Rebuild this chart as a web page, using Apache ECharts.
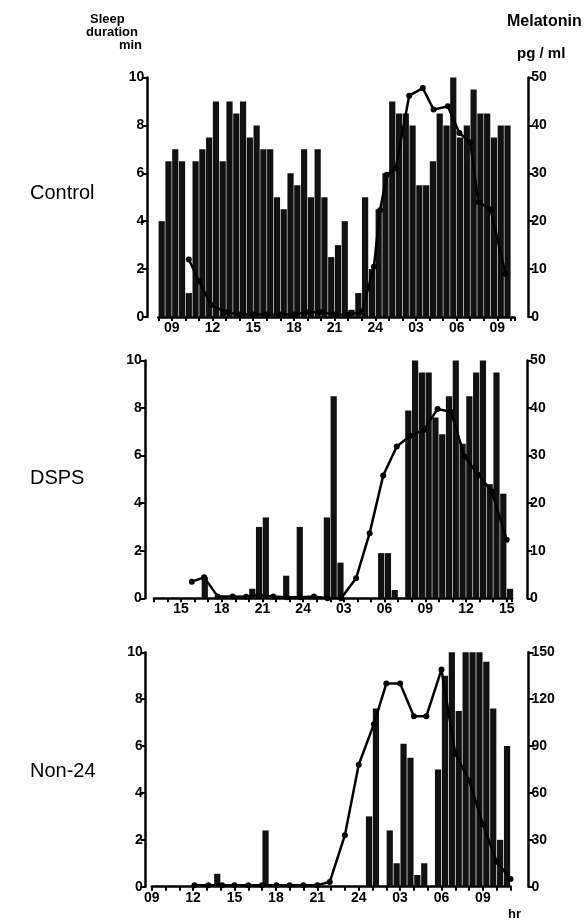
<!DOCTYPE html>
<html>
<head>
<meta charset="utf-8">
<script src="https://cdn.jsdelivr.net/npm/echarts@6/dist/echarts.min.js"></script>
<style>
  html, body { margin: 0; background: #fff; }
  #chart { width: 585px; height: 920px; }
</style>
</head>
<body>
<div id="chart"></div>
<script>
// sleep duration per half-hour bin (min), first bin centre given by *Start
var controlStart = 8.25
var controlSleep = [
  4.0, 6.5, 7.0, 6.5, 1.0, 6.5, 7.0, 7.5, 9.0, 6.5,
  9.0, 8.5, 9.0, 7.5, 8.0, 7.0, 7.0, 5.0, 4.5, 6.0,
  5.5, 7.0, 5.0, 7.0, 5.0, 2.5, 3.0, 4.0, 0.3, 1.0,
  5.0, 2.0, 4.5, 6.0, 9.0, 8.5, 8.5, 8.0, 5.5, 5.5,
  6.5, 8.5, 8.0, 10.0, 7.5, 8.0, 9.5, 8.5, 8.5, 7.5,
  8.0, 8.0
]
var dspsStart = 13.25
var dspsSleep = [
  0, 0, 0, 0, 0, 0, 0, 0.9, 0, 0,
  0, 0, 0, 0, 0.4, 3.0, 3.4, 0, 0, 0.95,
  0, 3.0, 0, 0, 0, 3.4, 8.5, 1.5, 0, 0,
  0, 0, 0, 1.9, 1.9, 0.35, 0, 7.9, 10, 9.5,
  9.5, 7.6, 6.9, 8.5, 10, 6.5, 8.5, 9.5, 10, 4.8,
  9.5, 4.4, 0.4
]
var non24Start = 9.25
var non24Sleep = [
  0, 0, 0, 0, 0, 0, 0, 0, 0, 0.55,
  0, 0, 0, 0, 0, 0, 2.4, 0, 0, 0,
  0, 0, 0, 0, 0, 0, 0, 0, 0, 0,
  0, 3.0, 7.6, 0, 2.4, 1.0, 6.1, 5.5, 0.5, 1.0,
  0, 5.0, 9.0, 10, 7.5, 10, 10, 10, 9.6, 7.6,
  2.0, 6.0
]

// melatonin samples (clock hour from start of record, pg/ml)
var controlMelTime = [10.25, 11.0, 11.9, 13, 14, 15, 16, 17, 18, 19, 20, 21, 22, 23, 23.9, 24.35, 24.85, 25.5, 26.5, 27.5, 28.3, 29.35, 30.2, 31.0, 31.6, 32.5, 33.6]
var controlMel = [12, 7.5, 2.5, 1, 0.5, 0.5, 0.5, 0.5, 0.5, 1, 1, 0.5, 0.5, 1, 10.5, 22.3, 29.7, 31, 46.2, 47.8, 43.3, 44, 38.4, 36.5, 24, 22.5, 9]
var dspsMelTime = [15.8, 16.7, 17.7, 18.8, 19.8, 20.7, 21.8, 22.8, 23.8, 24.8, 25.8, 26.8, 27.9, 28.9, 29.9, 30.9, 31.9, 32.9, 33.9, 34.9, 35.9, 36.9, 37.9, 39.0]
var dspsMel = [3.5, 4.4, 0.4, 0.4, 0.3, 0.7, 0.4, 0.2, 0.2, 0.4, 0, 0, 4.2, 13.7, 25.8, 31.9, 34.2, 35.4, 39.8, 39.2, 29.8, 26, 22.5, 12.3]
var non24MelTime = [12.1, 13.1, 14.1, 15.0, 16.0, 17.0, 18.05, 19.0, 20.0, 21.0, 21.9, 23.0, 24.0, 25.1, 26.0, 27.0, 28.0, 28.9, 30.0, 31.0, 32.0, 33.0, 34.0, 35.0]
var non24Mel = [1, 1, 1, 1, 1, 1, 1, 1, 1, 1, 3, 33, 78, 104, 130, 130, 109, 109, 139, 85, 68, 40, 16, 5]

var black = '#000'
var labelFont = 'Liberation Sans'

function halfHours(start, n) {
  var arr = []
  for (var i = 0; i < n; i++) arr.push(start + i * 0.5)
  return arr
}
function pairs(xs, ys) {
  return ys.map(function (v, i) { return [xs[i], v] })
}
// hour labels every 3 h, midnight written as 24
function hourLabel(v) {
  if (Math.abs(v - Math.round(v)) > 1e-6 || v % 3 !== 0) return ''
  var h = v % 24
  if (v === 24) return '24'
  return h < 10 ? '0' + h : '' + h
}

function xAxisFor(gridIndex, min, max) {
  return {
    type: 'value', gridIndex: gridIndex, min: min, max: max, interval: 1,
    axisLine: { show: true, onZero: false, lineStyle: { color: black, width: 2.5 } },
    axisTick: { show: true, length: 4, lineStyle: { color: black, width: 2 } },
    axisLabel: { formatter: hourLabel, color: black, fontSize: 14, fontWeight: 'bold', fontFamily: labelFont, margin: 4 },
    splitLine: { show: false }
  }
}
function yAxisFor(gridIndex, pos, max, interval, offset) {
  return {
    type: 'value', gridIndex: gridIndex, position: pos, offset: offset,
    min: 0, max: max, interval: interval,
    axisLine: { show: true, lineStyle: { color: black, width: 2.5 } },
    axisTick: { show: true, length: 5, lineStyle: { color: black, width: 2 } },
    axisLabel: { color: black, fontSize: 14, fontWeight: 'bold', fontFamily: labelFont, margin: 3 },
    splitLine: { show: false }
  }
}
function barSeries(idx, xs, ys) {
  return {
    type: 'bar', xAxisIndex: idx, yAxisIndex: idx * 2,
    data: pairs(xs, ys), barWidth: 6.2,
    itemStyle: { color: '#111' }, z: 2
  }
}
function lineSeries(idx, xs, ys) {
  return {
    type: 'line', xAxisIndex: idx, yAxisIndex: idx * 2 + 1,
    data: pairs(xs, ys), symbol: 'circle', symbolSize: 6,
    lineStyle: { color: black, width: 2.5 }, itemStyle: { color: black }, z: 3
  }
}
function txt(text, x, y, size, weight, align) {
  return {
    type: 'text', x: x, y: y,
    style: { text: text, fill: black, font: weight + ' ' + size + 'px "' + labelFont + '"', textAlign: align || 'left', textVerticalAlign: 'middle', verticalAlign: 'middle' }
  }
}

var chart = echarts.init(document.getElementById('chart'))
var option = {
  animation: false,
  backgroundColor: '#fff',
  grid: [
    { left: 158.3, top: 77.5, width: 356, height: 239.5 },
    { left: 153.9, top: 360.5, width: 358.2, height: 237.8 },
    { left: 151.7, top: 652.3, width: 358.8, height: 234.4 }
  ],
  xAxis: [
    xAxisFor(0, 8, 34.25),
    xAxisFor(1, 13, 39.4),
    xAxisFor(2, 9, 35)
  ],
  yAxis: [
    yAxisFor(0, 'left', 10, 2, 11),
    yAxisFor(0, 'right', 50, 10, 14),
    yAxisFor(1, 'left', 10, 2, 9),
    yAxisFor(1, 'right', 50, 10, 15),
    yAxisFor(2, 'left', 10, 2, 6),
    yAxisFor(2, 'right', 150, 30, 18)
  ],
  series: [
    barSeries(0, halfHours(controlStart, controlSleep.length), controlSleep),
    lineSeries(0, controlMelTime, controlMel),
    barSeries(1, halfHours(dspsStart, dspsSleep.length), dspsSleep),
    lineSeries(1, dspsMelTime, dspsMel),
    barSeries(2, halfHours(non24Start, non24Sleep.length), non24Sleep),
    lineSeries(2, non24MelTime, non24Mel)
  ],
  graphic: [
    txt('Sleep', 90, 19, 13, 'bold'),
    txt('duration', 86, 32, 13, 'bold'),
    txt('min', 142, 45, 13, 'bold', 'right'),
    txt('Melatonin', 507, 22, 16, 'bold'),
    txt('pg / ml', 517, 54, 15, 'bold'),
    txt('Control', 30, 193, 20, 'normal'),
    txt('DSPS', 30, 478, 20, 'normal'),
    txt('Non-24', 30, 771, 20, 'normal'),
    txt('hr', 508, 914, 13, 'bold')
  ]
}
chart.setOption(option)
</script>
</body>
</html>
